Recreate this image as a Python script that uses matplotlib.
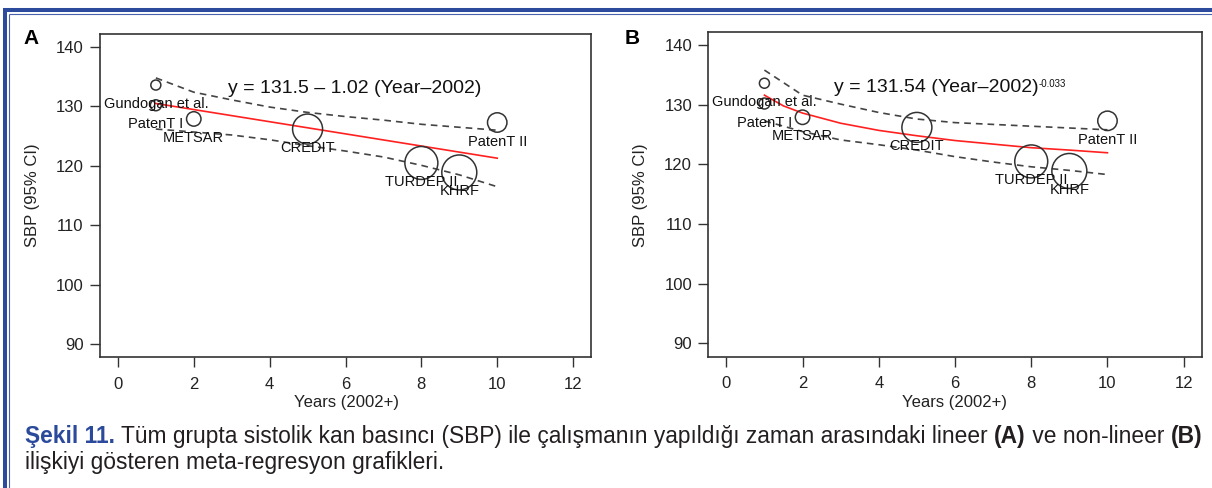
import matplotlib
matplotlib.use('Agg')
import matplotlib.pyplot as plt
from matplotlib.lines import Line2D

plt.rcParams['font.family'] = ['Liberation Sans', 'DejaVu Sans']

# ---------------- data ----------------
studies = ['Gundogan et al.', 'PatenT I', 'METSAR', 'CREDIT', 'TURDEP II', 'KHRF', 'PatenT II']
years = [1, 1, 2, 5, 8, 9, 10]
sbp = [133.6, 130.2, 127.9, 126.2, 120.5, 118.9, 127.3]
weights = [2.5, 3.0, 5.2, 22.4, 27.1, 30.5, 9.4]   # relative study weight (%)

# panel A: linear meta-regression
fit_x_a = [1, 10]
fit_y_a = [130.5, 121.3]
ci_x = [1, 2, 3, 4, 5, 6, 7, 8, 9, 10]
ci_upper_a = [134.8, 132.4, 131.1, 129.9, 129.0, 128.3, 127.7, 127.0, 126.5, 126.0]
ci_lower_a = [126.2, 125.7, 125.2, 124.4, 123.4, 122.5, 121.5, 120.1, 118.5, 116.5]

# panel B: non-linear meta-regression
fit_x_b = [1, 1.5, 2, 3, 4, 5, 6, 7, 8, 9, 10]
fit_y_b = [131.6, 129.8, 128.6, 126.9, 125.7, 124.8, 124.0, 123.4, 122.8, 122.4, 121.95]
ci_upper_b = [135.8, 131.6, 130.1, 128.7, 127.6, 127.0, 126.7, 126.4, 126.1, 125.8]
ci_lower_b = [127.3, 125.5, 124.1, 123.3, 122.4, 121.3, 120.4, 119.6, 119.0, 118.3]

x_ticks = [0, 2, 4, 6, 8, 10, 12]
y_ticks = [90, 100, 110, 120, 130, 140]
x_label = 'Years (2002+)'
y_label = 'SBP (95% CI)'
eq_a = 'y = 131.5 \u2013 1.02 (Year\u20132002)'
eq_b = 'y = 131.54 (Year\u20132002)'
eq_b_exp = '-0.033'

caption_line1 = [
    ('\u015eekil 11.', 'bold', '#2b4a9b'),
    (' T\u00fcm grupta sistolik kan bas\u0131nc\u0131 (SBP) ile \u00e7al\u0131\u015fman\u0131n yap\u0131ld\u0131\u011f\u0131 zaman aras\u0131ndaki lineer ', 'normal', '#231f20'),
    ('(A)', 'bold', '#231f20'),
    (' ve non-lineer ', 'normal', '#231f20'),
    ('(B)', 'bold', '#231f20'),
]
caption_line2 = 'ili\u015fkiyi g\u00f6steren meta-regresyon grafikleri.'

# ---------------- figure ----------------
W, H, DPI = 1212, 488, 100
fig = plt.figure(figsize=(W / DPI, H / DPI), dpi=DPI)

def fx(px):
    return px / W

def fy(py):
    return 1 - py / H

GREY = '#333333'
DASH = '#444444'

def setup(ax):
    ax.set_xlim(-0.48, 12.48)
    ax.set_ylim(87.8, 142.2)
    ax.set_xticks(x_ticks)
    ax.set_yticks(y_ticks)
    for s in ax.spines.values():
        s.set_color(GREY)
        s.set_linewidth(1.2)
    ax.tick_params(direction='out', length=7, width=1.0, color=GREY,
                   labelsize=12, labelcolor='#222222')
    ax.tick_params(axis='x', pad=7)
    ax.tick_params(axis='y', pad=4.5)

def points(ax):
    ax.scatter(years, sbp, s=[w * 20.8 for w in weights], facecolors='none',
               edgecolors=GREY, linewidths=1.1, zorder=3)
    for name, x, y in zip(studies, years, sbp):
        ax.annotate(name, (x, y), xytext=(0, -13.7), textcoords='offset points',
                    ha='center', va='center', fontsize=10.5, color='#111111', zorder=4)

axA = fig.add_axes([fx(99.7), fy(357.4), fx(491.6), (357.4 - 33.9) / H])
setup(axA)
axA.plot(ci_x, ci_upper_a, color=DASH, lw=1.2, ls=(0, (4, 3)))
axA.plot(ci_x, ci_lower_a, color=DASH, lw=1.2, ls=(0, (4, 3)))
axA.plot(fit_x_a, fit_y_a, color='#ff2020', lw=1.2)
points(axA)
axA.text(6.24, 133.1, eq_a, ha='center', va='center', fontsize=14, color='#111111')

axB = fig.add_axes([fx(708), fy(356.6), fx(494), (356.6 - 31.9) / H])
setup(axB)
axB.plot(ci_x, ci_upper_b, color=DASH, lw=1.2, ls=(0, (4, 3)))
axB.plot(ci_x, ci_lower_b, color=DASH, lw=1.2, ls=(0, (4, 3)))
axB.plot(fit_x_b, fit_y_b, color='#ff2020', lw=1.2)
points(axB)
tb = axB.text(2.82, 132.9, eq_b, ha='left', va='center', fontsize=14, color='#111111')
axB.annotate(eq_b_exp, xy=(1.0, 0.97), xycoords=tb, ha='left', va='top',
             fontsize=7, color='#111111')

# panel letters
fig.text(fx(31), fy(39), 'A', ha='center', va='center', fontsize=15, fontweight='bold')
fig.text(fx(632), fy(38), 'B', ha='center', va='center', fontsize=15, fontweight='bold')

# axis labels
fig.text(fx(33), fy(195), y_label, rotation=90, ha='center', va='center', fontsize=12, color='#222222')
fig.text(fx(641), fy(195), y_label, rotation=90, ha='center', va='center', fontsize=12, color='#222222')
fig.text(fx(346), fy(403), x_label, ha='center', va='center', fontsize=12, color='#222222')
fig.text(fx(955), fy(403), x_label, ha='center', va='center', fontsize=12, color='#222222')

# border lines
BLUE = '#2d4b9c'
fig.add_artist(Line2D([fx(5.3), fx(5.3)], [0, fy(8.3)], color=BLUE, lw=2.9, solid_capstyle='butt'))
fig.add_artist(Line2D([fx(3.3), 1], [fy(10.3), fy(10.3)], color=BLUE, lw=2.9, solid_capstyle='butt'))
fig.add_artist(Line2D([fx(8.9), fx(8.9)], [0, fy(13.5)], color='#4862ab', lw=0.8, solid_capstyle='butt'))
fig.add_artist(Line2D([fx(8.5), 1], [fy(14.0), fy(14.0)], color='#4862ab', lw=0.8, solid_capstyle='butt'))

# caption (pieces laid out on a common baseline)
CAP = 16.4
renderer = fig.canvas.get_renderer()
xpos = 25.0
base1 = 443.0
for txt, weight, col in caption_line1:
    t = fig.text(fx(xpos), fy(base1), txt, ha='left', va='baseline', fontsize=CAP,
                 fontweight=weight, color=col)
    bb = t.get_window_extent(renderer)
    xpos = bb.x1
fig.text(fx(25), fy(469), caption_line2, ha='left', va='baseline', fontsize=CAP, color='#231f20')

fig.savefig('out.png', dpi=DPI)
